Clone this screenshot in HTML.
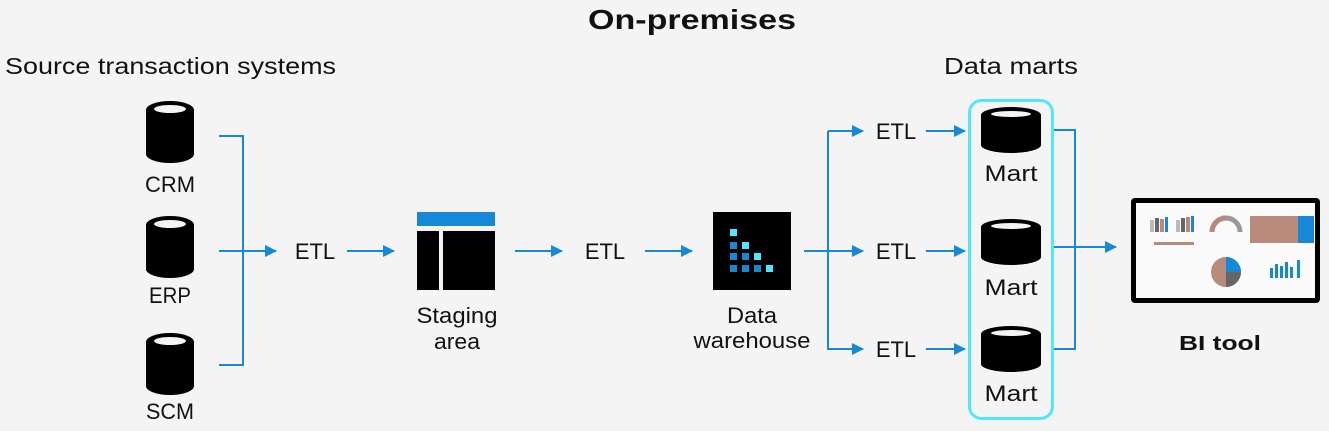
<!DOCTYPE html>
<html><head><style>
html,body{margin:0;padding:0;background:#f4f4f4;}
svg{display:block;font-family:"Liberation Sans",sans-serif;}
</style></head><body>
<svg width="1329" height="431" viewBox="0 0 1329 431" xmlns="http://www.w3.org/2000/svg">
<defs>
<marker id="a" markerWidth="12" markerHeight="12" refX="11" refY="6" orient="auto" markerUnits="userSpaceOnUse"><path d="M0,0 L12,6 L0,12 z" fill="#1589d8"/></marker>
<g id="cyl">
<path d="M0,9 A24,9 0 0 1 48,9 L48,53 A24,9 0 0 1 0,53 Z" fill="#000"/>
<ellipse cx="24" cy="8" rx="16" ry="4" fill="#f4f4f4"/>
</g>
<g id="cyl2">
<path d="M0,8 A30,8 0 0 1 60,8 L60,38 A30,8 0 0 1 0,38 Z" fill="#000"/>
<ellipse cx="30" cy="7" rx="20" ry="3" fill="#f4f4f4"/>
</g>
</defs>
<rect width="1329" height="431" fill="#f4f4f4"/>
<text x="588" y="29" font-size="28" font-weight="bold" fill="#111" textLength="208" lengthAdjust="spacingAndGlyphs">On-premises</text>
<text x="5" y="74" font-size="23" fill="#111" textLength="331" lengthAdjust="spacingAndGlyphs">Source transaction systems</text>
<text x="944" y="74" font-size="23" fill="#111" textLength="134" lengthAdjust="spacingAndGlyphs">Data marts</text>

<use href="#cyl" x="146" y="101"/>
<use href="#cyl" x="146" y="216"/>
<use href="#cyl" x="146" y="333"/>
<g font-size="22" text-anchor="middle" fill="#111">
<text x="170" y="192" textLength="50" lengthAdjust="spacingAndGlyphs">CRM</text>
<text x="170" y="303" textLength="42" lengthAdjust="spacingAndGlyphs">ERP</text>
<text x="170" y="419" textLength="48" lengthAdjust="spacingAndGlyphs">SCM</text>
<text x="315" y="259">ETL</text>
<text x="605" y="259">ETL</text>
<text x="896" y="139">ETL</text>
<text x="896" y="259">ETL</text>
<text x="896" y="357">ETL</text>
<text x="457" y="323" textLength="81" lengthAdjust="spacingAndGlyphs">Staging</text>
<text x="457" y="349" textLength="46" lengthAdjust="spacingAndGlyphs">area</text>
<text x="752" y="323" textLength="50" lengthAdjust="spacingAndGlyphs">Data</text>
<text x="752" y="348" textLength="117" lengthAdjust="spacingAndGlyphs">warehouse</text>
<text x="1011" y="181" textLength="53" lengthAdjust="spacingAndGlyphs">Mart</text>
<text x="1011" y="295" textLength="53" lengthAdjust="spacingAndGlyphs">Mart</text>
<text x="1011" y="401" textLength="53" lengthAdjust="spacingAndGlyphs">Mart</text>
<text x="1220" y="350" font-weight="bold" font-size="20" textLength="82" lengthAdjust="spacingAndGlyphs">BI tool</text>
</g>

<g stroke="#1589d8" stroke-width="2" fill="none">
<path d="M219,136 H243 V365 H219"/>
<path d="M219,251 H276" marker-end="url(#a)"/>
<path d="M347,251 H394" marker-end="url(#a)"/>
<path d="M515,251 H562" marker-end="url(#a)"/>
<path d="M645,251 H692" marker-end="url(#a)"/>
<path d="M804,251 H863" marker-end="url(#a)"/>
<path d="M828,131 V349 H863" marker-end="url(#a)"/>
<path d="M828,131 H863" marker-end="url(#a)"/>
<path d="M926,131 H965" marker-end="url(#a)"/>
<path d="M926,251 H965" marker-end="url(#a)"/>
<path d="M926,349 H965" marker-end="url(#a)"/>
<path d="M1053,130 H1075 V349 H1053"/>
<path d="M1054,247 H1116" marker-end="url(#a)"/>
</g>

<rect x="417" y="212" width="78" height="14" fill="#1589d8"/>
<rect x="417" y="231" width="22" height="59" fill="#000"/>
<rect x="443" y="231" width="52" height="59" fill="#000"/>

<rect x="713" y="212" width="78" height="78" fill="#000"/>
<g>
<rect x="730" y="229" width="7" height="7" fill="#50e6ff"/>
<rect x="730" y="242" width="7" height="7" fill="#1589d8"/>
<rect x="742" y="242" width="7" height="7" fill="#50e6ff"/>
<rect x="730" y="253" width="7" height="7" fill="#1589d8"/>
<rect x="742" y="253" width="7" height="7" fill="#1589d8"/>
<rect x="754" y="253" width="7" height="7" fill="#50e6ff"/>
<rect x="730" y="265" width="7" height="7" fill="#1589d8"/>
<rect x="742" y="265" width="7" height="7" fill="#1589d8"/>
<rect x="754" y="265" width="7" height="7" fill="#1589d8"/>
<rect x="766" y="265" width="7" height="7" fill="#50e6ff"/>
</g>

<rect x="969.5" y="100.5" width="83" height="318" rx="12" fill="none" stroke="#50e6ff" stroke-width="3"/>
<use href="#cyl2" x="981" y="107"/>
<use href="#cyl2" x="981" y="219"/>
<use href="#cyl2" x="981" y="326"/>

<rect x="1131" y="198" width="189" height="105" rx="4" fill="#000"/>
<rect x="1136" y="203" width="179" height="95" fill="#fafafa"/>
<g>
<rect x="1150" y="220" width="4" height="12" fill="#bbb"/><rect x="1155" y="218" width="4" height="14" fill="#666"/><rect x="1160" y="219" width="4" height="13" fill="#b88a7c"/><rect x="1165" y="217" width="3" height="15" fill="#1589d8"/>
<rect x="1176" y="220" width="4" height="12" fill="#bbb"/><rect x="1181" y="218" width="4" height="14" fill="#666"/><rect x="1186" y="217" width="4" height="15" fill="#b88a7c"/><rect x="1191" y="216" width="3" height="16" fill="#1589d8"/>
<rect x="1154" y="242" width="40" height="3" fill="#b88a7c"/>
<path d="M1212,232 A14,14 0 0 1 1240,232" fill="none" stroke="#999" stroke-width="5"/>
<path d="M1212,232 A14,14 0 0 1 1226,218" fill="none" stroke="#b88a7c" stroke-width="5"/>
<rect x="1250" y="216" width="50" height="27" fill="#b88a7c"/>
<rect x="1298" y="216" width="16" height="27" fill="#1589d8"/>
<circle cx="1226" cy="272" r="15" fill="#b88a7c"/>
<path d="M1226,272 L1226,257 A15,15 0 0 1 1241,272 Z" fill="#1589d8"/>
<path d="M1226,272 L1241,272 A15,15 0 0 1 1226,287 Z" fill="#666"/>
<rect x="1270" y="268" width="3" height="10" fill="#1589d8"/><rect x="1275" y="264" width="3" height="14" fill="#1589d8"/><rect x="1280" y="266" width="3" height="12" fill="#1589d8"/><rect x="1285" y="262" width="3" height="16" fill="#1589d8"/><rect x="1290" y="267" width="3" height="11" fill="#1589d8"/><rect x="1297" y="260" width="3" height="18" fill="#1589d8"/>
</g>
</svg>
</body></html>
